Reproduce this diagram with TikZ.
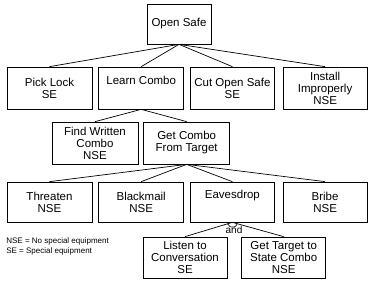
\documentclass[tikz,border=0pt]{standalone}
\usepackage{fontspec}
\setmainfont{Liberation Sans}
\usetikzlibrary{positioning}

\begin{document}
\begin{tikzpicture}[x=1pt,y=1pt,line width=0.7pt,
  box/.style={draw,align=center,inner sep=0pt,minimum width=85pt,minimum height=42pt,font=\fontsize{11.5}{12}\selectfont}]
\useasboundingbox (0,0) rectangle (370,-284);
\node[box,minimum width=64pt,minimum height=40pt] (safe) at (179,-24) {Open Safe};
\node[box] (pick) at (49.5,-88) {Pick Lock\\SE};
\node[box,right=6pt of pick] (learn) {Learn Combo\\\strut};
\node[box,minimum width=84pt,right=6pt of learn] (cut) {Cut Open Safe\\SE};
\node[box,minimum width=84pt,right=8pt of cut] (install) {Install\\Improperly\\NSE};
\node[box,minimum width=86pt] (written) at (95,-143) {Find Written\\Combo\\NSE};
\node[box,minimum width=86pt,right=5pt of written] (target) {Get Combo\\From Target};
\node[box,minimum height=40pt] (threaten) at (49.5,-202) {Threaten\\NSE};
\node[box,minimum height=40pt,right=6pt of threaten] (blackmail) {Blackmail\\NSE};
\node[box,minimum height=40pt,minimum width=84pt,right=6pt of blackmail] (eaves) {Eavesdrop\\\strut};
\node[box,minimum height=40pt,minimum width=84pt,right=8pt of eaves] (bribe) {Bribe\\NSE};
\node[box,minimum width=84pt,minimum height=41pt] (listen) at (185,-257.5) {Listen to\\Conversation\\SE};
\node[box,minimum width=84pt,minimum height=41pt,right=14pt of listen] (state) {Get Target to\\State Combo\\NSE};
\node[font=\fontsize{10}{10}\selectfont,inner sep=0pt] (and) at (234,-230) {and};
\node[anchor=north west,align=left,inner sep=0pt,font=\fontsize{8}{10}\selectfont] (key) at (6,-237) {NSE = No special equipment\\SE = Special equipment};
% tree edges
\foreach \n in {pick,learn,cut,install} \draw (safe.south) -- (\n.north);
\foreach \n in {written,target} \draw (learn.south) -- (\n.north);
\foreach \n in {threaten,blackmail,eaves,bribe} \draw (target.south) -- (\n.north);
\foreach \n in {listen,state} \draw (eaves.south) -- (\n.north);
\draw ([shift={(198:5pt)}]eaves.south) arc[start angle=198,end angle=342,radius=5pt];
\end{tikzpicture}
\end{document}
